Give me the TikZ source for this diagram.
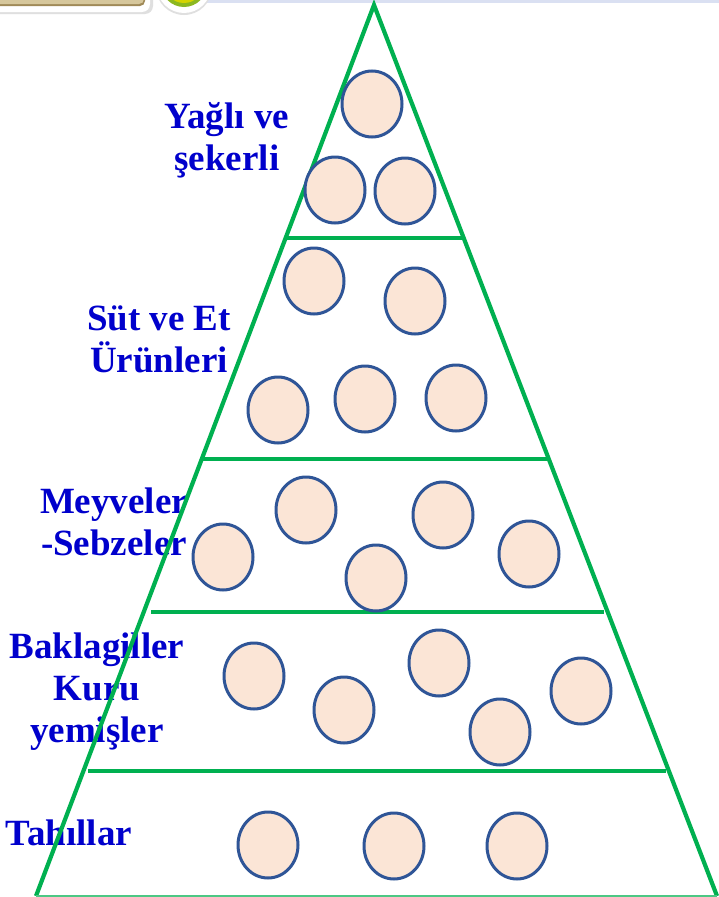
\documentclass[tikz,border=0pt]{standalone}
\usepackage{fontspec}
\setmainfont{Liberation Serif}
\usetikzlibrary{shapes.geometric}
\definecolor{pyrgreen}{HTML}{00B050}
\definecolor{bubfill}{HTML}{FBE5D6}
\definecolor{bubline}{HTML}{2F5597}
\definecolor{labblue}{HTML}{0000CC}
\definecolor{bandblue}{HTML}{DAE0F2}
\definecolor{tanbtn}{HTML}{D6C79C}
\definecolor{tanedge}{HTML}{A08A58}
\definecolor{yel}{HTML}{D4D400}
\definecolor{yeledge}{HTML}{8CB820}
\tikzset{
  bubble/.style={ellipse, draw=bubline, fill=bubfill, line width=3pt,
    minimum width=60pt, minimum height=66pt, inner sep=0pt},
  side/.style={draw=pyrgreen, line width=4.2pt},
  tier/.style={draw=pyrgreen, line width=4pt},
  label/.style={text=labblue, font=\fontsize{37}{42}\selectfont\bfseries,
    align=center, inner sep=0pt, anchor=base}
}
\begin{document}
\begin{tikzpicture}[x=1pt,y=-1pt]
\useasboundingbox (0,0) rectangle (719,897);
\clip (0,0) rectangle (719,897);
\fill[white] (0,0) rectangle (719,897);
% top decorations
\fill[bandblue] (200,0) rectangle (719,2.5);
\fill[gray!25, rounded corners=8pt] (-20,-20) rectangle (153,14);
\fill[white, rounded corners=8pt] (-20,-20) rectangle (150,12);
\fill[tanedge, rounded corners=5pt] (-20,-20) rectangle (145,6);
\fill[tanbtn, rounded corners=5pt] (-20,-20) rectangle (144,4);
\fill[gray!25] (184,-13) circle (28);
\fill[white] (184,-14) circle (27);
\fill[yeledge] (184,-16) circle (23);
\fill[yel] (184,-17) circle (20);
% labels (anchor = baseline of last line)
\node[label] (l1) at (227,170) {Yağlı ve\\şekerli};
\node[label] (l2) at (159,372) {Süt ve Et\\Ürünleri};
\node[label] (l3) at (114,555) {Meyveler\\-Sebzeler};
\node[label] (l4) at (97,742) {Baklagiller\\Kuru\\yemişler};
\node[label] (l5) at (69,845) {Tahıllar};
% pyramid
\coordinate (apex) at (374,5);
\coordinate (bl) at (36,896);
\coordinate (br) at (717,896);
\draw[side, line join=miter] (bl) -- (apex) -- (br);
\draw[draw=pyrgreen!70, line width=2.5pt] (bl) -- (br);
\draw[tier] (285,237.5) -- (464,237.5);
\draw[tier] (202,459) -- (550,459);
\draw[tier] (151,611.5) -- (604,611.5);
\draw[tier] (88,770.5) -- (666,770.5);
% bubbles
\node[bubble] (b1) at (372,104) {};
\node[bubble] (b2) at (335,190) {};
\node[bubble] (b3) at (405,191) {};
\node[bubble] (b4) at (314,281) {};
\node[bubble] (b5) at (415,301) {};
\node[bubble] (b6) at (278,410) {};
\node[bubble] (b7) at (365,399) {};
\node[bubble] (b8) at (456,398) {};
\node[bubble] (b9) at (306,510) {};
\node[bubble] (b10) at (443,515) {};
\node[bubble] (b11) at (223,557) {};
\node[bubble] (b12) at (376,578) {};
\node[bubble] (b13) at (529,554) {};
\node[bubble] (b14) at (254,676) {};
\node[bubble] (b15) at (344,710) {};
\node[bubble] (b16) at (439,663) {};
\node[bubble] (b17) at (500,732) {};
\node[bubble] (b18) at (581,691) {};
\node[bubble] (b19) at (268,845) {};
\node[bubble] (b20) at (394,846) {};
\node[bubble] (b21) at (517,846) {};
\end{tikzpicture}
\end{document}
